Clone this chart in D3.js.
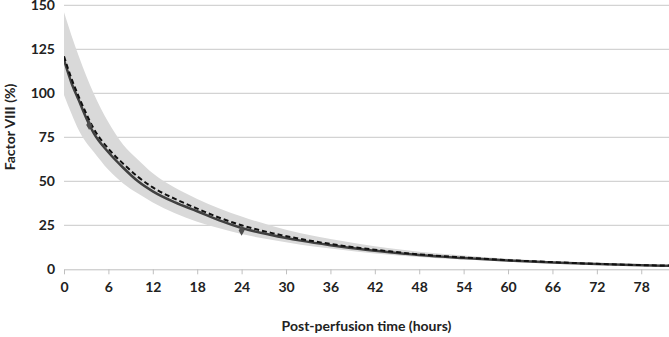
<!DOCTYPE html>
<html>
<head>
<meta charset="utf-8">
<script src="https://cdn.jsdelivr.net/npm/d3@7"></script>
<style>
  body { margin: 0; background: #fff; }
  text { font-family: Lato, "Liberation Sans", sans-serif; font-weight: bold; fill: #222; }
</style>
</head>
<body>
<svg id="chart" width="669" height="337"></svg>
<script>
// time grid (hours) for the curves
const hours = [0, 1, 2, 3, 4, 6, 8, 10, 12, 15, 18, 21, 24, 28, 32, 36, 40, 44, 48, 54, 60, 66, 72, 78, 81.75];
const fitSolid = [119, 106, 96, 86, 77.5, 66.5, 57.7, 50, 44.3, 38, 33, 27.8, 23.5, 19.5, 16.3, 13.7, 11.5, 9.7, 8.1, 6.4, 5.0, 3.9, 3.0, 2.3, 2.0];
const fitDashed = [121, 108.5, 98, 88.5, 80, 68.5, 60, 52.5, 46.5, 40, 34.5, 29.3, 25, 20.7, 17.2, 14.4, 12.1, 10.2, 8.5, 6.7, 5.2, 4.1, 3.1, 2.4, 2.1];
const bandLower = [99, 88.5, 79, 72, 66.8, 56.5, 48.8, 43, 38, 31.8, 27, 23.3, 20, 16.8, 14, 11.8, 9.9, 8.3, 7.0, 5.5, 4.3, 3.4, 2.6, 2.0, 1.8];
const bandUpper = [146, 133, 121, 110, 100, 83.5, 70.8, 62.3, 54.6, 46.3, 40, 34.6, 30, 24.8, 20.5, 17.2, 14.4, 12, 10, 7.8, 6.0, 4.6, 3.5, 2.7, 2.3];

// observed points
const obsHours = [3.4, 24];
const obsValues = [82, 22];

const xTicks = d3.range(0, 79, 6);
const yTicks = [0, 25, 50, 75, 100, 125, 150];

const svg = d3.select("#chart");
const plotLeft = 64, plotRight = 669, plotTop = 5.3, plotBottom = 269.3;

const x = d3.scaleLinear().domain([0, 81.75]).range([plotLeft, plotRight]);
const y = d3.scaleLinear().domain([0, 150]).range([plotBottom, plotTop]);

// gridlines
svg.append("g")
  .selectAll("line")
  .data(yTicks.filter(d => d > 0))
  .join("line")
  .attr("x1", plotLeft).attr("x2", plotRight)
  .attr("y1", d => y(d)).attr("y2", d => y(d))
  .attr("stroke", "#c8c8c8")
  .attr("stroke-width", 1);

const rows = hours.map((h, i) => ({
  h, solid: fitSolid[i], dashed: fitDashed[i], lo: bandLower[i], hi: bandUpper[i]
}));

svg.append("clipPath").attr("id", "plotclip")
  .append("rect").attr("x", plotLeft).attr("y", 0)
  .attr("width", plotRight - plotLeft).attr("height", plotBottom);

const plot = svg.append("g").attr("clip-path", "url(#plotclip)");

plot.append("path")
  .datum(rows)
  .attr("fill", "#d9d9d9")
  .attr("d", d3.area()
    .x(d => x(d.h))
    .y0(d => y(d.lo))
    .y1(d => y(d.hi))
    .curve(d3.curveMonotoneX));

plot.append("path")
  .datum(rows)
  .attr("fill", "none")
  .attr("stroke", "#404040")
  .attr("stroke-width", 2.5)
  .attr("d", d3.line().x(d => x(d.h)).y(d => y(d.solid)).curve(d3.curveMonotoneX));

plot.append("path")
  .datum(rows)
  .attr("fill", "none")
  .attr("stroke", "#111")
  .attr("stroke-width", 2)
  .attr("stroke-dasharray", "5,3")
  .attr("d", d3.line().x(d => x(d.h)).y(d => y(d.dashed)).curve(d3.curveMonotoneX));

plot.selectAll(".obs")
  .data(obsHours)
  .join("path")
  .attr("class", "obs")
  .attr("transform", (d, i) => `translate(${x(d)},${y(obsValues[i])})`)
  .attr("d", d3.symbol(d3.symbolDiamond, 30))
  .attr("fill", "#4d4d4d");

// x axis
const xAxis = svg.append("g")
  .attr("transform", `translate(0,${plotBottom})`)
  .call(d3.axisBottom(x).tickValues(xTicks).tickSize(5).tickPadding(8).tickSizeOuter(0));
xAxis.select(".domain").attr("stroke", "#bfbfbf");
xAxis.selectAll(".tick line").attr("stroke", "#bfbfbf");
xAxis.selectAll("text").style("font-size", "14px").attr("fill", "#222");

// y axis labels
const yAxis = svg.append("g")
  .attr("transform", `translate(${plotLeft},0)`)
  .call(d3.axisLeft(y).tickValues(yTicks).tickSize(0).tickPadding(9));
yAxis.select(".domain").remove();
yAxis.selectAll("text").style("font-size", "14px").attr("fill", "#222");

svg.append("text")
  .attr("x", (plotLeft + plotRight) / 2)
  .attr("y", 331)
  .attr("text-anchor", "middle")
  .style("font-size", "14px")
  .text("Post-perfusion time (hours)");

svg.append("text")
  .attr("transform", "translate(15,127) rotate(-90)")
  .attr("text-anchor", "middle")
  .style("font-size", "14px")
  .text("Factor VIII (%)");
</script>
</body>
</html>
